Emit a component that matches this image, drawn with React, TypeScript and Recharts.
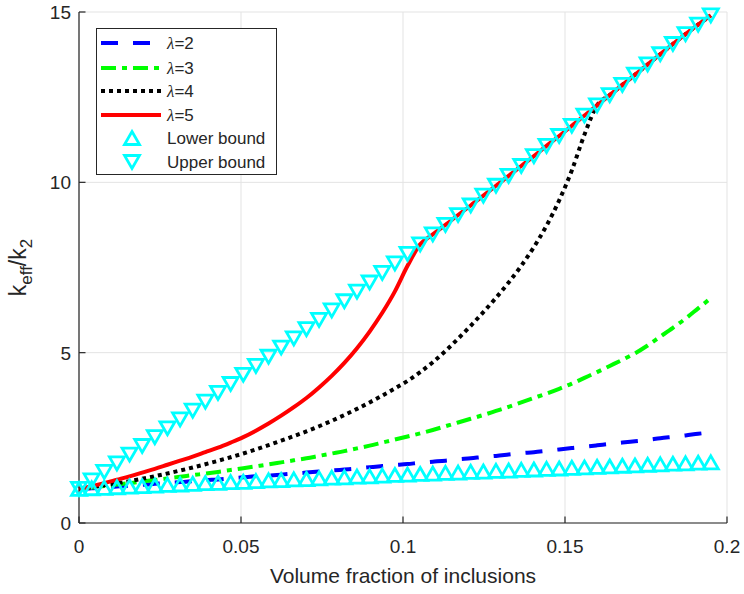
import React from 'react';
import { LineChart, Line, XAxis, YAxis, CartesianGrid, Legend } from 'recharts';

const FONT = '"Liberation Sans", Arial, Helvetica, sans-serif';
const INK = '#262626';
const CYAN = '#00ffff';

// volume fraction of inclusions (shared x values)
const volumeFraction = [
  0, 0.0039, 0.0078, 0.0117, 0.0156, 0.0195, 0.0234, 0.0273, 0.0312, 0.0351,
  0.039, 0.0429, 0.0468, 0.0507, 0.0546, 0.0585, 0.0624, 0.0663, 0.0702, 0.0741,
  0.078, 0.0819, 0.0858, 0.0897, 0.0936, 0.0975, 0.1014, 0.1053, 0.1092, 0.1131,
  0.117, 0.1209, 0.1248, 0.1287, 0.1326, 0.1365, 0.1404, 0.1443, 0.1482, 0.1521,
  0.156, 0.1599, 0.1638, 0.1677, 0.1716, 0.1755, 0.1794, 0.1833, 0.1872, 0.1911,
  0.195,
];

const lambda2 = [
  1.0, 1.02, 1.05, 1.07, 1.1, 1.12, 1.15, 1.18, 1.2, 1.23,
  1.26, 1.28, 1.31, 1.34, 1.37, 1.39, 1.42, 1.45, 1.48, 1.51,
  1.54, 1.57, 1.6, 1.64, 1.67, 1.7, 1.73, 1.77, 1.8, 1.83,
  1.87, 1.9, 1.94, 1.97, 2.01, 2.05, 2.08, 2.12, 2.16, 2.2,
  2.24, 2.28, 2.32, 2.36, 2.4, 2.44, 2.49, 2.53, 2.57, 2.62,
  2.66,
];

const lambda3 = [
  1.0, 1.04, 1.085, 1.13, 1.17, 1.215, 1.26, 1.31, 1.355, 1.405,
  1.45, 1.5, 1.555, 1.61, 1.665, 1.72, 1.78, 1.84, 1.9, 1.97,
  2.04, 2.11, 2.19, 2.27, 2.36, 2.45, 2.54, 2.63, 2.73, 2.84,
  2.95, 3.06, 3.17, 3.29, 3.41, 3.54, 3.67, 3.8, 3.94, 4.09,
  4.26, 4.43, 4.61, 4.79, 4.98, 5.21, 5.47, 5.73, 6.0, 6.3,
  6.6,
];

const lambda4 = [
  1.0, 1.05, 1.105, 1.165, 1.23, 1.3, 1.375, 1.455, 1.54, 1.63,
  1.725, 1.825, 1.93, 2.04, 2.16, 2.285, 2.415, 2.55, 2.69, 2.84,
  3.0, 3.17, 3.35, 3.54, 3.74, 3.95, 4.17, 4.43, 4.72, 5.05,
  5.41, 5.79, 6.19, 6.61, 7.06, 7.55, 8.1, 8.73, 9.47, 10.35,
  11.4, 12.26, 12.56, 12.86, 13.16, 13.46, 13.76, 14.06, 14.35, 14.63,
  14.9,
];

const lambda5 = [
  1.0, 1.08, 1.17, 1.27, 1.37, 1.48, 1.59, 1.71, 1.83, 1.95,
  2.08, 2.21, 2.36, 2.52, 2.71, 2.92, 3.15, 3.4, 3.67, 3.98,
  4.32, 4.7, 5.13, 5.62, 6.17, 6.8, 7.55, 8.18, 8.47, 8.75,
  9.04, 9.32, 9.61, 9.9, 10.19, 10.48, 10.77, 11.07, 11.36, 11.66,
  11.96, 12.26, 12.56, 12.86, 13.16, 13.46, 13.76, 14.06, 14.35, 14.63,
  14.9,
];

const lowerBound = [
  1.0, 1.02, 1.03, 1.05, 1.07, 1.08, 1.1, 1.12, 1.13, 1.15,
  1.17, 1.18, 1.2, 1.21, 1.23, 1.25, 1.26, 1.28, 1.29, 1.31,
  1.33, 1.34, 1.36, 1.37, 1.39, 1.41, 1.42, 1.44, 1.45, 1.47,
  1.48, 1.5, 1.51, 1.53, 1.54, 1.56, 1.57, 1.59, 1.6, 1.62,
  1.63, 1.65, 1.66, 1.68, 1.69, 1.71, 1.72, 1.74, 1.75, 1.77,
  1.78,
];

const upperBound = [
  1.0, 1.25, 1.5, 1.75, 2.01, 2.26, 2.52, 2.78, 3.04, 3.3,
  3.56, 3.82, 4.08, 4.35, 4.61, 4.88, 5.15, 5.42, 5.69, 5.96,
  6.24, 6.51, 6.79, 7.06, 7.34, 7.62, 7.9, 8.18, 8.47, 8.75,
  9.04, 9.32, 9.61, 9.9, 10.19, 10.48, 10.77, 11.07, 11.36, 11.66,
  11.96, 12.26, 12.56, 12.86, 13.16, 13.46, 13.76, 14.06, 14.35, 14.63,
  14.9,
];

const xTicks = [0, 0.05, 0.1, 0.15, 0.2];
const yTicks = [0, 5, 10, 15];

const lineSeries = [
  { key: 'l2', label: '2', color: '#0000ff', dash: '17 15' },
  { key: 'l3', label: '3', color: '#00ff00', dash: '15 6 5 6' },
  { key: 'l4', label: '4', color: '#000000', dash: '4 4' },
  { key: 'l5', label: '5', color: '#ff0000', dash: undefined },
];

const data = volumeFraction.map((phi, i) => ({
  phi,
  l2: lambda2[i],
  l3: lambda3[i],
  l4: lambda4[i],
  l5: lambda5[i],
  lower: lowerBound[i],
  upper: upperBound[i],
}));

function triangle(cx: number, cy: number, down: boolean) {
  const h = 6.5;
  const w = 7.5;
  return down
    ? `${cx - w},${cy - h} ${cx + w},${cy - h} ${cx},${cy + h}`
    : `${cx},${cy - h} ${cx + w},${cy + h} ${cx - w},${cy + h}`;
}

const renderUp = (p: any) => (
  <polygon key={`lo-${p.index}`} points={triangle(p.cx, p.cy, false)} fill="none" stroke={CYAN} strokeWidth={2.8} />
);
const renderDown = (p: any) => (
  <polygon key={`up-${p.index}`} points={triangle(p.cx, p.cy, true)} fill="none" stroke={CYAN} strokeWidth={2.8} />
);

// MATLAB style: ticks point into the box
function BottomTick({ x, y, payload }: any) {
  return (
    <g>
      <line x1={x} y1={y} x2={x} y2={y - 6.5} stroke={INK} strokeWidth={1.2} />
      <text x={x} y={y + 30} textAnchor="middle" fontSize={19} fill={INK} fontFamily={FONT}>
        {payload.value}
      </text>
    </g>
  );
}

function LeftTick({ x, y, payload }: any) {
  return (
    <g>
      <line x1={x} y1={y} x2={x + 6.5} y2={y} stroke={INK} strokeWidth={1.2} />
      <text x={x - 8} y={y + 7} textAnchor="end" fontSize={19} fill={INK} fontFamily={FONT}>
        {payload.value}
      </text>
    </g>
  );
}

function TopTick({ x, y }: any) {
  return <line x1={x} y1={y} x2={x} y2={y + 6.5} stroke={INK} strokeWidth={1.2} />;
}

function RightTick({ x, y }: any) {
  return <line x1={x} y1={y} x2={x - 6.5} y2={y} stroke={INK} strokeWidth={1.2} />;
}

function XLabel({ viewBox }: any) {
  return (
    <text x={viewBox.x + viewBox.width / 2} y={583} textAnchor="middle" fontSize={21} fill={INK} fontFamily={FONT}>
      Volume fraction of inclusions
    </text>
  );
}

function YLabel({ viewBox }: any) {
  const cy = viewBox.y + viewBox.height / 2;
  return (
    <text
      transform={`translate(26,${cy}) rotate(-90)`}
      textAnchor="middle"
      fontSize={23}
      fill={INK}
      fontFamily={FONT}
    >
      k<tspan fontSize={17} dy={6}>eff</tspan>
      <tspan dy={-6}>/k</tspan>
      <tspan fontSize={17} dy={6}>2</tspan>
    </text>
  );
}

function LegendBox() {
  const rowY = [14, 39, 62, 86, 109, 133];
  return (
    <div
      style={{
        width: 181,
        height: 147,
        border: `1px solid ${INK}`,
        background: '#fff',
        boxSizing: 'border-box',
      }}
    >
      <svg width={179} height={145} style={{ display: 'block' }}>
        {lineSeries.map((s, i) => (
          <g key={s.key}>
            <line
              x1={4}
              x2={64}
              y1={rowY[i]}
              y2={rowY[i]}
              stroke={s.color}
              strokeWidth={4}
              strokeDasharray={s.dash}
            />
            <text x={70} y={rowY[i] + 6} fontSize={17} fill={INK} fontFamily={FONT}>
              <tspan fontFamily='"Liberation Serif", serif' fontStyle="italic">λ</tspan>={s.label}
            </text>
          </g>
        ))}
        <polygon points={triangle(35, rowY[4], false)} fill="none" stroke={CYAN} strokeWidth={2.8} />
        <text x={70} y={rowY[4] + 6} fontSize={17} fill={INK} fontFamily={FONT}>Lower bound</text>
        <polygon points={triangle(35, rowY[5], true)} fill="none" stroke={CYAN} strokeWidth={2.8} />
        <text x={70} y={rowY[5] + 6} fontSize={17} fill={INK} fontFamily={FONT}>Upper bound</text>
      </svg>
    </div>
  );
}

export default function App() {
  return (
    <div style={{ position: 'absolute', left: 0, top: 0, width: 744, height: 594, background: '#fff' }}>
      <LineChart width={744} height={594} data={data} margin={{ top: 12, right: 17, bottom: 0, left: 0 }}>
        <CartesianGrid stroke="#e3e3e3" strokeWidth={1} />
        <XAxis
          dataKey="phi"
          type="number"
          domain={[0, 0.2]}
          ticks={xTicks}
          interval={0}
          height={71}
          tickSize={0}
          tickMargin={0}
          tickLine={false}
          axisLine={{ stroke: INK, strokeWidth: 1.2 }}
          tick={<BottomTick />}
          label={<XLabel />}
        />
        <XAxis
          xAxisId="top"
          orientation="top"
          dataKey="phi"
          type="number"
          domain={[0, 0.2]}
          allowDataOverflow
          ticks={xTicks}
          interval={0}
          height={0}
          tickSize={0}
          tickMargin={0}
          tickLine={false}
          axisLine={{ stroke: INK, strokeWidth: 1.2 }}
          tick={<TopTick />}
        />
        <YAxis
          type="number"
          domain={[0, 15]}
          ticks={yTicks}
          interval={0}
          width={79}
          tickSize={0}
          tickMargin={0}
          tickLine={false}
          axisLine={{ stroke: INK, strokeWidth: 1.2 }}
          tick={<LeftTick />}
          label={<YLabel />}
        />
        <YAxis
          yAxisId="right"
          orientation="right"
          type="number"
          domain={[0, 15]}
          allowDataOverflow
          ticks={yTicks}
          interval={0}
          width={0}
          tickSize={0}
          tickMargin={0}
          tickLine={false}
          axisLine={{ stroke: INK, strokeWidth: 1.2 }}
          tick={<RightTick />}
        />
        {lineSeries.map((s) => (
          <Line
            key={s.key}
            dataKey={s.key}
            type="monotone"
            stroke={s.color}
            strokeWidth={4}
            strokeDasharray={s.dash}
            dot={false}
            activeDot={false}
            isAnimationActive={false}
          />
        ))}
        <Line dataKey="lower" stroke="none" dot={renderUp} activeDot={false} isAnimationActive={false} />
        <Line dataKey="upper" stroke="none" dot={renderDown} activeDot={false} isAnimationActive={false} />
        <Legend
          layout="horizontal"
          verticalAlign="middle"
          content={<LegendBox />}
          wrapperStyle={{ left: 96, top: 28, width: 181, height: 147 }}
        />
      </LineChart>
    </div>
  );
}
